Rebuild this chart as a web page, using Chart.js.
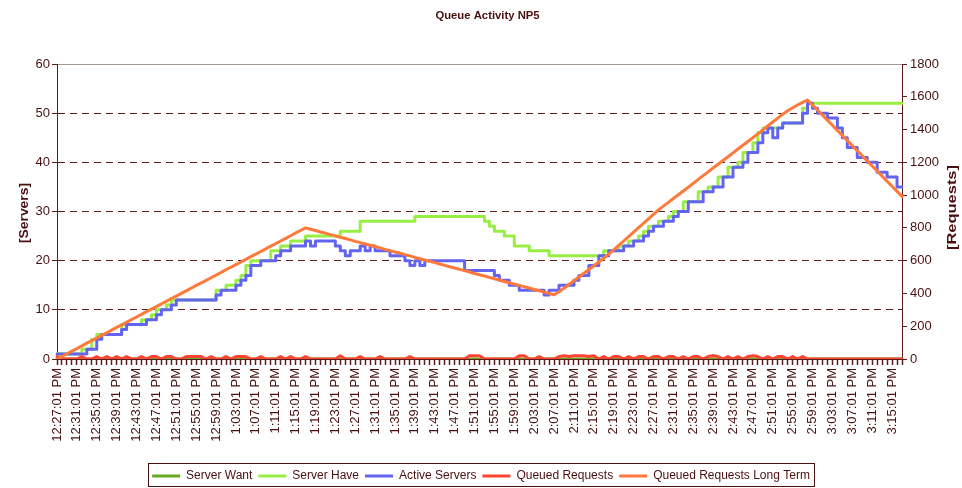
<!DOCTYPE html>
<html>
<head>
<meta charset="utf-8">
<title>Queue Activity NP5</title>
<script src="https://cdn.jsdelivr.net/npm/chart.js@4.4.1/dist/chart.umd.min.js"></script>
<style>
  html, body { margin: 0; padding: 0; background: #ffffff; }
  #wrap { width: 962px; height: 488px; }
</style>
</head>
<body>
<div id="wrap"><canvas id="queue" width="962" height="488"></canvas></div>
<script>
// ---- sample times: one sample per minute, 12:27:01 PM .. 3:17:01 PM ----
const firstSampleMinute = 12 * 60 + 27;
const sampleCount = 171;
const times = [];
for (let i = 0; i < sampleCount; i++) {
  const t = firstSampleMinute + i;
  let h = Math.floor(t / 60) % 12;
  if (h === 0) h = 12;
  times.push(h + ':' + String(t % 60).padStart(2, '0') + ':01 PM');
}
const labelEvery = 4; // a time label is printed every 4 minutes

// ---- series (servers, left axis) ----
const serverWant = [
  0,0,0,0,0,0,0,0,0,0, 0,0,0,0,0,0,0,0,0,0, 0,0,0,0,0,0,0,0,0,0,
  0,0,0,0,0,0,0,0,0,0, 0,0,0,0,0,0,0,0,0,0, 0,0,0,0,0,0,0,0,0,0,
  0,0,0,0,0,0,0,0,0,0, 0,0,0,0,0,0,0,0,0,0, 0,0,0,0,0,0,0,0,0,0,
  0,0,0,0,0,0,0,0,0,0, 0,0,0,0,0,0,0,0,0,0, 0,0,0,0,0,0,0,0,0,0,
  0,0,0,0,0,0,0,0,0,0, 0,0,0,0,0,0,0,0,0,0, 0,0,0,0,0,0,0,0,0,0,
  0,0,0,0,0,0,0,0,0,0, 0,0,0,0,0,0,0,0,0,0, 0
];

const serverHave = [
  1,1,1,1,1, 2,2, 4, 5,5,5,5,5, 7,7,7,7, 8,8, 9, 10,10, 11,
  12,12,12,12,12,12,12,12,12, 14,14, 15,15, 16,17,
  19,20,20,20,20, 22,22, 23,23, 24,24,24,
  25,25,25,25,25,25,25, 26,26,26,26,
  28,28,28,28,28,28,28,28,28,28,28,
  29,29,29,29,29,29,29,29,29,29,29,29,29,29,
  28,27, 26,26, 25,25, 23,23,23, 22,22,22,22,
  21,21,21,21,21,21,21,21,21,21,
  21,22, 22,22,23, 23,24, 24,25, 26,27, 27,28, 28,29,
  30,30,32, 32,32,34, 34,35, 35,37, 37,39, 39,40, 42, 42,44, 46,47,
  47,47,47, 48,48,48,48, 51,
  52,52,52,52,52,52,52,52,52,52,52,52,52,52,52,52,52,52,52,52
];

const activeServers = [
  1,1,1,1,1,1, 2,2,4, 5,5,5,5,6, 7,7,7,7,8,8,9, 10,10,11,
  12,12,12,12,12,12,12,12,
  13,14,14,14,15,16,17,19,19,
  20,20,20,21,22,22,23,23,23,
  24,23,24,24,24,24, 23,22,21,22,22, 23,22,23,22,22,22,
  21,21,21, 20,19,20,19,20, 20,20,20,20,20,20,20,
  18,18,18,18,18,18, 17,16,16,15,15,
  14,14,14,14,14,13,14,14,
  15,15,15,16,17,17,19,19,
  21,21,22,22,22,23,23,
  24,24,25,26,27,27,28,28,
  29,30,30,32,32,32,34,34,
  35,35,37,37,39,39,40,
  42,42,44,46,47,45,47,
  48,48,48,48,50,52,
  51,50,50,49,49,47,45,
  43,43,41,41,40,40,
  38,38,37,37,35,35
];

// ---- series (requests, right axis) ----
const queuedRequests = [
  15,0,0,0,0,15,0,0,15,0,   15,0,15,0,15,0,0,15,0,15,
  15,0,15,15,0,0,15,15,15,15, 0,15,0,0,15,0,15,15,15,0,
  0,15,0,0,0,15,0,15,0,0,   15,0,0,0,0,0,0,20,0,0,
  0,15,0,0,0,15,0,0,0,0,    0,15,0,0,0,0,0,0,0,0,
  0,0,0,20,20,20,0,0,0,0,   0,0,0,20,20,0,0,15,0,0,
  0,15,20,15,20,20,20,15,20,0, 15,0,15,15,0,15,0,15,15,0,
  15,15,0,15,15,0,15,0,15,15, 0,15,20,15,0,15,0,15,0,15,
  20,15,0,15,0,15,15,0,15,0, 15,0,0,0,0,0,0,0,0,0,
  0,0,0,0,0,0,0,0,0,0, 0
];

const queuedLongTerm = [
  0,15,32,48,63,80,97,112,128,144,160,176,193,208,224,240,256,272,289,304,
  320,336,352,369,384,400,416,432,449,464,480,496,512,528,545,560,576,592,608,625,
  640,656,672,689,704,720,736,752,769,784,800,
  792,784,775,768,759,751,743,735,727,718,710,702,694,686,678,669,661,653,645,637,
  629,620,612,604,596,588,580,571,563,555,547,539,531,522,514,506,498,490,482,473,
  465,457,449,441,433,424,416,408,400,392,
  410,432,455,478,500,523,546,569,592,615,640,666,693,720,747,774,801,828,855,882,
  910,933,956,979,1002,1025,1048,1072,1096,1119,1142,1165,1188,1211,1234,1258,1281,1304,1327,1350,
  1374,1398,1422,1446,1470,1494,1515,1533,1550,1566,1580,
  1550,1519,1488,1457,1426,1395,1364,1333,1302,1271,1240,1209,1178,1147,1116,1085,1054,1023,992
];

const seriesNames = ['Server Want', 'Server Have', 'Active Servers', 'Queued Requests', 'Queued Requests Long Term'];
const serverTicks = { min: 0, max: 60, step: 10 };
const requestTicks = { min: 0, max: 1800, step: 200 };

// ---- styling ----
const INK = '#4a0f0f';
const GRID = '#5e1c1c';
const FONT = '"Liberation Sans", Arial, sans-serif';
const colors = ['#66aa22', '#99ee44', '#6464f2', '#ff4433', '#ff7a3a'];

function lineSet(label, data, color, axis, order, stepped) {
  return {
    label, data, yAxisID: axis, order,
    borderColor: color, backgroundColor: color,
    borderWidth: 3, pointRadius: 0, pointHoverRadius: 0,
    tension: 0, stepped: stepped, fill: false,
    borderCapStyle: 'round', borderJoinStyle: 'round'
  };
}

const frame = {
  id: 'frame',
  afterDraw(chart) {
    const c = chart.ctx;
    c.save();
    c.fillStyle = INK;
    c.textAlign = 'center';
    c.textBaseline = 'middle';
    c.font = 'bold 11.3px ' + FONT;
    c.fillText('Queue Activity NP5', 487.5, 16);

    const vertical = (text, cx, cy, len) => {
      c.save();
      c.translate(cx, cy);
      c.rotate(-Math.PI / 2);
      c.font = 'bold 13px ' + FONT;
      const w = c.measureText(text).width;
      c.scale(len / w, 1);
      c.fillText(text, 0, 0);
      c.restore();
    };
    vertical('[Servers]', 24, 213, 60);
    vertical('[Requests]', 952.5, 207.5, 85);

    const boxes = chart.legend.legendHitBoxes;
    const l = Math.min(...boxes.map(b => b.left)) - 4;
    const r = Math.max(...boxes.map(b => b.left + b.width)) + 4;
    c.strokeStyle = INK;
    c.lineWidth = 1;
    c.strokeRect(Math.round(l) + 0.5, 463.5, Math.round(r - l), 23);
    c.restore();
  }
};

new Chart(document.getElementById('queue'), {
  type: 'line',
  data: {
    labels: times,
    datasets: [
      lineSet(seriesNames[0], serverWant, colors[0], 'y', 5, true),
      lineSet(seriesNames[1], serverHave, colors[1], 'y', 4, true),
      lineSet(seriesNames[2], activeServers, colors[2], 'y', 3, true),
      lineSet(seriesNames[3], queuedRequests, colors[3], 'y1', 2, false),
      lineSet(seriesNames[4], queuedLongTerm, colors[4], 'y1', 1, false)
    ]
  },
  options: {
    responsive: false,
    animation: false,
    events: [],
    layout: { padding: { top: 64, left: 0, right: 0, bottom: 0 } },
    plugins: {
      title: { display: false },
      tooltip: { enabled: false },
      legend: {
        position: 'bottom',
        maxHeight: 24,
        labels: {
          usePointStyle: true,
          pointStyle: 'line',
          pointStyleWidth: 28,
          padding: 6,
          color: INK,
          font: { family: FONT, size: 12 },
          sort: (a, b) => a.datasetIndex - b.datasetIndex
        }
      }
    },
    scales: {
      x: {
        type: 'category',
        offset: false,
        grid: { display: true, drawOnChartArea: false, drawTicks: true, tickLength: 6, tickWidth: 1.5, color: GRID, tickColor: GRID },
        border: { display: true, color: GRID, width: 1 },
        ticks: {
          autoSkip: false, minRotation: 90, maxRotation: 90, padding: 3,
          color: INK, font: { family: FONT, size: 13 },
          callback: function (v, i) { return i % labelEvery === 0 ? this.getLabelForValue(v) : ''; }
        },
        afterFit: s => { s.height = 105; }
      },
      y: {
        position: 'left',
        min: serverTicks.min, max: serverTicks.max,
        ticks: { stepSize: serverTicks.step, color: INK, font: { family: FONT, size: 13 }, padding: 2,
                 callback: v => String(v) },
        grid: {
          drawTicks: true, tickLength: 5, tickColor: GRID, lineWidth: 1,
          color: ctx => ctx.tick.value === serverTicks.max ? '#a49a94' : (ctx.tick.value === 0 ? 'rgba(0,0,0,0)' : GRID)
        },
        border: {
          display: true, color: GRID, width: 1,
          dash: ctx => (ctx.tick && ctx.tick.value > 0 && ctx.tick.value < serverTicks.max) ? [7, 5] : []
        },
        afterFit: s => { s.width = 57; }
      },
      y1: {
        position: 'right',
        min: requestTicks.min, max: requestTicks.max,
        ticks: { stepSize: requestTicks.step, color: INK, font: { family: FONT, size: 13 }, padding: 3,
                 callback: v => String(v) },
        grid: { drawOnChartArea: false, drawTicks: true, tickLength: 5, tickColor: GRID, color: GRID },
        border: { display: true, color: GRID, width: 1 },
        afterFit: s => { s.width = 60; }
      }
    }
  },
  plugins: [frame]
});
</script>
</body>
</html>
